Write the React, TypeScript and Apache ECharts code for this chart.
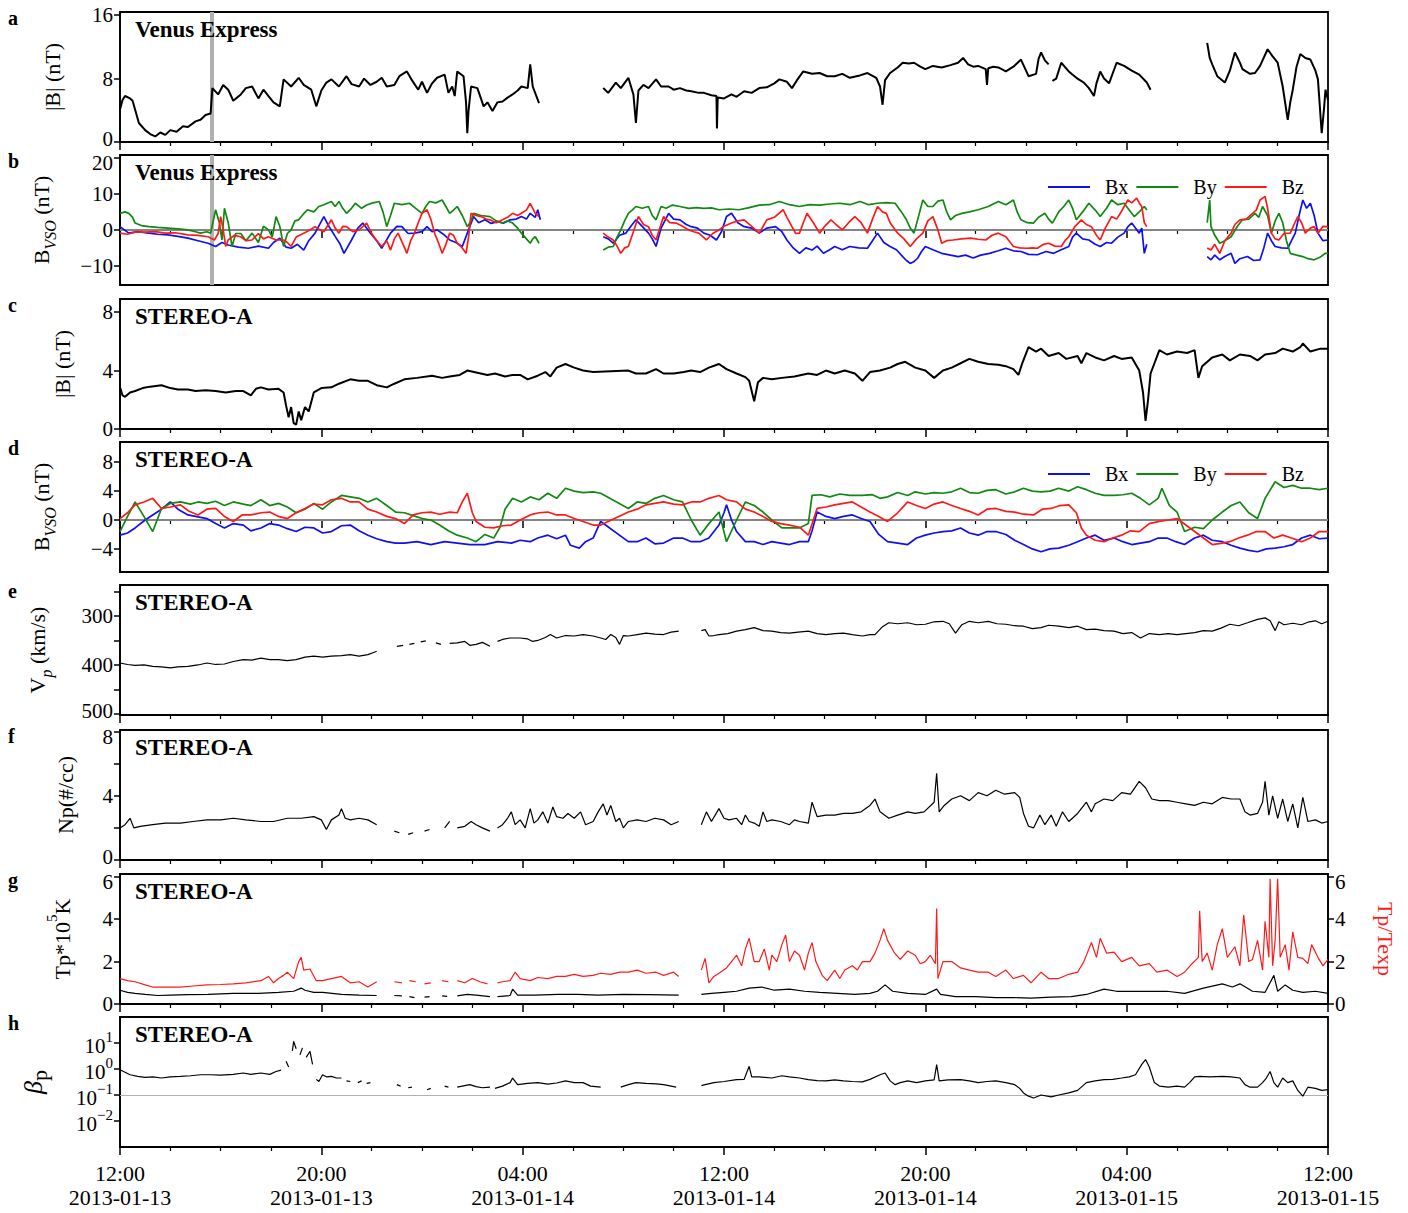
import React, { useEffect, useRef } from "react";
import * as echarts from "echarts";

type P = [number, number | null];
// time axis: hours since 2013-01-13 12:00
const timeTicks = [0, 8, 16, 24, 32, 40, 48];
const timeTickLabels = ["12:00\n2013-01-13", "20:00\n2013-01-13", "04:00\n2013-01-14", "12:00\n2013-01-14", "20:00\n2013-01-14", "04:00\n2013-01-15", "12:00\n2013-01-15"];
const boundaryTime = 3.65;

const vexB: P[] = [[0,4.1],[0.1,5.3],[0.2,5.8],[0.4,5.5],[0.5,5.2],[0.75,2.4],[1.0,1.5],[1.2,1.0],[1.4,0.7],[1.6,1.2],[1.8,0.9],[2.0,1.5],[2.25,1.3],[2.5,2.0],[2.7,1.9],[3.0,2.6],[3.2,2.8],[3.4,3.4],[3.6,3.6],[3.67,6.8],[3.9,6.0],[4.1,7.2],[4.3,6.6],[4.5,5.2],[4.8,6.0],[5.0,6.8],[5.25,7.0],[5.5,5.5],[5.7,6.6],[5.9,5.8],[6.1,5.0],[6.35,4.5],[6.5,7.9],[6.8,7.0],[7.1,8.1],[7.3,7.2],[7.6,6.6],[7.8,4.5],[8.0,6.5],[8.2,7.5],[8.4,7.9],[8.7,7.0],[9.0,8.3],[9.2,7.3],[9.5,7.0],[9.7,8.0],[9.95,7.2],[10.2,7.6],[10.4,8.1],[10.6,7.0],[10.9,7.2],[11.1,8.3],[11.4,8.9],[11.6,7.8],[11.85,6.6],[12.0,7.6],[12.2,6.2],[12.4,7.4],[12.6,8.1],[12.9,8.5],[13.05,6.2],[13.2,7.0],[13.3,5.8],[13.4,8.9],[13.65,8.3],[13.75,5.0],[13.8,1.1],[13.85,4.0],[13.95,7.0],[14.2,6.8],[14.45,4.5],[14.6,5.0],[14.8,3.9],[15.0,5.0],[15.2,5.1],[15.4,5.6],[15.6,6.0],[15.8,6.5],[15.95,7.0],[16.2,6.8],[16.3,9.8],[16.4,7.0],[16.65,4.9],[16.7,null],
[19.2,6.8],[19.4,6.2],[19.7,7.5],[19.9,6.8],[20.2,8.1],[20.4,6.0],[20.5,2.4],[20.6,6.5],[20.8,7.2],[21.0,6.8],[21.3,7.9],[21.5,7.0],[21.8,7.0],[22.0,6.6],[22.25,6.8],[22.5,6.5],[22.7,6.4],[23.0,6.2],[23.2,6.2],[23.5,5.9],[23.7,5.8],[23.72,1.7],[23.75,5.6],[24.0,5.5],[24.3,6.0],[24.5,5.7],[24.8,6.4],[25.1,6.2],[25.4,6.8],[25.7,6.9],[26.0,7.4],[26.2,7.9],[26.5,7.6],[26.7,6.8],[26.9,7.8],[27.15,8.9],[27.5,8.6],[27.8,8.7],[28.1,8.3],[28.4,8.3],[28.7,8.6],[29.0,8.1],[29.4,8.4],[29.7,8.7],[30.05,8.1],[30.2,7.0],[30.3,4.7],[30.4,7.8],[30.6,8.7],[30.9,9.4],[31.1,10.0],[31.35,9.9],[31.55,10.0],[31.8,9.5],[32.0,9.2],[32.3,9.6],[32.65,9.4],[33.0,9.7],[33.3,10.0],[33.5,10.6],[33.7,9.8],[33.9,9.5],[34.1,9.6],[34.4,9.2],[34.45,7.2],[34.5,9.3],[34.7,9.5],[34.9,9.4],[35.2,8.9],[35.5,9.5],[35.8,10.4],[36.1,8.3],[36.4,8.6],[36.5,10.5],[36.6,11.3],[36.75,10.3],[36.9,9.8],[37.0,null],[37.05,7.7],[37.2,8.0],[37.4,10.0],[37.7,8.9],[38.0,8.1],[38.3,7.5],[38.5,6.8],[38.7,5.8],[38.8,7.4],[38.95,8.9],[39.1,8.0],[39.3,7.4],[39.6,10.0],[39.9,9.6],[40.2,9.0],[40.5,8.5],[40.8,7.5],[40.95,6.6],[41.0,null],
[43.2,12.5],[43.3,10.6],[43.4,9.8],[43.6,8.3],[43.9,7.5],[44.1,9.0],[44.3,11.3],[44.5,10.0],[44.6,9.2],[44.9,8.6],[45.1,8.7],[45.3,9.6],[45.6,11.7],[45.8,10.8],[46.0,10.0],[46.2,7.0],[46.4,2.8],[46.5,5.0],[46.6,6.6],[46.75,9.5],[46.9,11.1],[47.1,10.6],[47.3,10.4],[47.5,9.0],[47.6,7.9],[47.75,1.1],[47.85,4.5],[47.9,6.6],[48.0,5.3]];

const vexBx: P[] = [[0,0.9],[0.35,-0.9],[0.7,-0.5],[1.15,-0.9],[1.5,-1.2],[1.9,-1.4],[2.3,-1.8],[2.7,-2.3],[3.1,-3.0],[3.5,-3.7],[3.8,-4.6],[4.05,-3.5],[4.3,-4.2],[4.7,-4.8],[5.1,-5.1],[5.5,-4.5],[5.9,-5.1],[6.1,-3.5],[6.35,-2.3],[6.6,-4.8],[6.8,-5.1],[7.05,-4.0],[7.3,-5.6],[7.5,-3.0],[7.75,-0.9],[8.1,3.7],[8.3,1.0],[8.55,-1.8],[8.75,-4.0],[8.9,-6.5],[9.2,-2.8],[9.45,0.5],[9.65,1.9],[9.95,-0.9],[10.2,-3.0],[10.4,-5.1],[10.75,-0.9],[11.0,1.0],[11.2,0.9],[11.45,-1.0],[11.7,-0.9],[12.0,-0.5],[12.2,0.9],[12.4,-0.5],[12.6,0],[12.85,-1.2],[13.1,-2.8],[13.35,-3.5],[13.6,-4.6],[13.8,-0.9],[14.05,3.7],[14.25,2.0],[14.5,2.8],[14.75,1.8],[15.0,2.3],[15.25,1.9],[15.5,2.8],[15.75,3.0],[15.95,3.7],[16.15,3.0],[16.3,4.6],[16.5,3.5],[16.6,5.6],[16.7,2.8],[16.72,null],
[19.2,-1.9],[19.4,-2.5],[19.6,-3.7],[19.85,-1.5],[20.1,-0.9],[20.3,1.0],[20.5,2.8],[20.75,1.0],[21.0,-0.9],[21.15,-2.5],[21.3,-4.6],[21.5,0.5],[21.8,4.6],[22.0,3.0],[22.25,2.8],[22.5,1.5],[22.7,0.9],[22.95,0.5],[23.2,-0.9],[23.45,-1.5],[23.7,-2.8],[23.9,-0.5],[24.1,3.7],[24.3,4.6],[24.55,2.0],[24.8,0.9],[25.1,0.5],[25.4,-0.9],[25.7,0.5],[26.05,0.9],[26.3,-0.5],[26.5,-2.8],[26.75,-5.0],[27.0,-6.5],[27.25,-5.0],[27.5,-5.6],[27.7,-4.5],[27.95,-6.5],[28.2,-5.5],[28.4,-4.6],[28.7,-5.5],[29.0,-4.6],[29.35,-5.0],[29.7,-5.1],[29.9,-3.0],[30.1,-0.9],[30.35,-3.5],[30.6,-4.6],[30.85,-5.5],[31.1,-7.4],[31.25,-8.5],[31.4,-9.3],[31.55,-8.8],[31.7,-7.8],[31.85,-6.0],[32.0,-4.6],[32.3,-5.5],[32.65,-6.5],[33.0,-7.0],[33.3,-7.4],[33.6,-7.0],[33.9,-7.8],[34.2,-7.0],[34.55,-6.5],[34.9,-5.8],[35.2,-5.1],[35.5,-5.8],[35.8,-6.0],[36.1,-6.8],[36.45,-6.9],[36.8,-6.0],[37.1,-6.5],[37.4,-5.5],[37.7,-4.6],[37.85,-2.0],[38.0,-0.9],[38.25,-2.5],[38.5,-2.8],[38.75,-4.0],[38.95,-4.6],[39.2,-3.5],[39.4,-3.7],[39.65,-2.0],[39.9,-0.9],[40.05,0.9],[40.2,1.9],[40.35,0.5],[40.5,-0.9],[40.6,0.5],[40.7,-6.5],[40.8,-4.0],[40.82,null],
[43.2,-7.4],[43.35,-8.3],[43.5,-7.0],[43.7,-8.3],[43.9,-7.4],[44.15,-6.5],[44.3,-9.3],[44.5,-8.0],[44.8,-7.4],[45.05,-8.5],[45.3,-8.3],[45.45,-5.0],[45.6,-0.9],[45.75,-3.0],[45.9,-4.6],[46.15,-5.0],[46.4,-5.1],[46.55,-3.0],[46.7,-0.9],[46.85,4.0],[47.0,8.3],[47.15,6.0],[47.3,7.4],[47.45,4.0],[47.6,-0.9],[47.8,-3.0],[48.0,-2.8]];

const vexBy: P[] = [[0,4.6],[0.2,5.0],[0.35,4.6],[0.5,3.5],[0.6,1.9],[0.85,1.2],[1.15,0.9],[1.5,0.7],[1.9,0.5],[2.3,0.3],[2.7,0],[3.0,-0.5],[3.2,-0.9],[3.45,-0.5],[3.6,-0.9],[3.8,5.6],[3.95,2.0],[4.05,-2.8],[4.15,6.0],[4.3,2.0],[4.45,-4.6],[4.6,-1.0],[4.8,-1.0],[5.0,-3.0],[5.25,-0.9],[5.5,-3.5],[5.7,1.0],[5.9,0],[6.05,-2.0],[6.2,3.7],[6.35,1.0],[6.5,-4.6],[6.65,-1.0],[6.8,0],[6.95,2.5],[7.1,2.8],[7.3,4.5],[7.45,5.6],[7.7,5.0],[7.9,6.5],[8.1,7.0],[8.4,7.9],[8.55,6.5],[8.7,7.9],[8.85,6.0],[9.0,4.6],[9.2,6.0],[9.35,7.4],[9.6,6.0],[9.8,6.9],[10.05,7.5],[10.3,7.9],[10.45,5.0],[10.6,0.9],[10.75,4.0],[10.9,7.4],[11.2,7.0],[11.5,7.4],[11.75,6.0],[12.0,4.6],[12.15,6.5],[12.3,7.9],[12.55,7.5],[12.8,8.3],[12.95,6.5],[13.1,4.6],[13.25,5.5],[13.4,6.5],[13.6,4.0],[13.8,0.9],[13.95,2.5],[14.05,4.6],[14.35,4.0],[14.7,3.7],[14.95,2.5],[15.2,1.9],[15.4,2.5],[15.6,1.9],[15.8,0.5],[15.95,-0.9],[16.15,-2.5],[16.3,-3.7],[16.4,-2.5],[16.5,-1.9],[16.65,-3.7],[16.7,null],
[19.2,-5.6],[19.4,-4.8],[19.6,-4.6],[19.75,-2.0],[19.9,0],[20.05,2.5],[20.2,4.6],[20.35,5.5],[20.5,6.5],[20.75,6.0],[21.0,6.5],[21.15,4.0],[21.3,2.8],[21.5,6.5],[21.7,6.0],[21.95,6.9],[22.25,6.5],[22.6,6.0],[22.9,6.2],[23.2,6.0],[23.5,6.1],[23.8,5.6],[24.2,5.8],[24.6,5.6],[25.0,6.2],[25.4,6.9],[25.8,7.0],[26.2,7.9],[26.6,7.0],[27.0,6.5],[27.4,7.0],[27.8,6.9],[28.2,7.2],[28.6,7.4],[29.0,7.0],[29.4,7.9],[29.75,7.0],[30.1,7.4],[30.45,7.6],[30.8,7.4],[31.05,5.0],[31.25,2.8],[31.4,0.5],[31.55,-0.9],[31.7,3.0],[31.9,8.3],[32.1,6.5],[32.3,6.5],[32.5,8.0],[32.7,8.3],[32.85,5.0],[33.0,2.8],[33.2,4.0],[33.45,4.6],[33.75,5.0],[34.1,5.6],[34.5,6.5],[34.9,7.9],[35.2,7.0],[35.5,8.3],[35.65,5.0],[35.8,2.8],[36.05,2.0],[36.3,1.9],[36.5,3.5],[36.75,4.6],[36.9,3.0],[37.05,1.9],[37.3,5.0],[37.5,6.5],[37.7,8.3],[37.85,6.0],[38.0,2.8],[38.25,5.0],[38.5,7.4],[38.75,5.5],[38.95,3.7],[39.2,6.0],[39.4,8.3],[39.65,7.0],[39.9,7.4],[40.1,5.5],[40.3,3.7],[40.5,5.0],[40.7,6.5],[40.8,5.5],[40.82,null],
[43.2,2.0],[43.3,8.3],[43.35,0.9],[43.5,-1.5],[43.7,-3.7],[43.9,-3.0],[44.15,-1.9],[44.4,1.0],[44.6,2.8],[44.85,3.0],[45.1,4.6],[45.25,3.5],[45.4,6.5],[45.6,4.0],[45.75,-0.9],[45.9,2.5],[46.05,4.6],[46.2,2.0],[46.35,-3.0],[46.5,-6.5],[46.75,-7.0],[47.0,-7.4],[47.2,-8.0],[47.45,-8.3],[47.7,-7.5],[47.9,-6.5],[48.0,-6.5]];

const vexBz: P[] = [[0,-0.9],[0.3,-1.2],[0.6,-0.6],[1.0,-0.6],[1.4,-0.5],[1.8,-0.9],[2.2,-0.8],[2.7,-1.4],[3.1,-1.5],[3.5,-1.9],[3.75,-2.8],[3.9,-1.0],[4.0,3.7],[4.1,0],[4.2,-4.6],[4.3,-2.8],[4.55,-1.5],[4.8,-1.9],[5.0,-3.0],[5.25,-2.8],[5.5,-1.0],[5.7,-2.5],[5.9,-1.9],[6.2,-2.8],[6.5,-2.8],[6.65,-3.5],[6.8,-4.6],[7.0,-2.0],[7.3,-0.9],[7.55,0],[7.75,0.9],[7.95,0],[8.1,-0.5],[8.4,2.8],[8.55,0.5],[8.7,-0.9],[8.85,1.0],[9.0,0.9],[9.25,-0.5],[9.5,0],[9.8,1.9],[10.0,-1.0],[10.2,-3.0],[10.4,-4.6],[10.6,-3.0],[10.75,-5.6],[10.9,-2.5],[11.05,-0.9],[11.25,-4.0],[11.4,-6.5],[11.55,-3.0],[11.7,-0.9],[11.85,2.0],[12.0,4.6],[12.2,5.6],[12.35,3.0],[12.5,-0.9],[12.65,-3.5],[12.8,-6.5],[12.95,-4.0],[13.1,-0.9],[13.25,-1.5],[13.4,-3.7],[13.6,-5.0],[13.75,-6.5],[13.85,-2.0],[13.95,4.6],[14.15,4.0],[14.35,3.7],[14.55,3.0],[14.7,2.8],[14.95,2.0],[15.2,2.8],[15.4,3.5],[15.6,4.6],[15.8,4.0],[15.95,4.6],[16.15,5.5],[16.3,7.4],[16.4,6.0],[16.5,4.6],[16.65,3.7],[16.7,null],
[19.2,-0.9],[19.4,-2.0],[19.6,-2.8],[19.75,-4.5],[19.9,-6.5],[20.05,-5.0],[20.2,-4.6],[20.4,-0.5],[20.6,3.7],[20.8,1.5],[21.0,0.9],[21.15,-1.5],[21.3,-2.8],[21.45,0.5],[21.6,3.7],[21.85,2.0],[22.1,1.9],[22.35,1.0],[22.6,0],[22.8,-0.5],[23.0,-0.9],[23.3,-2.8],[23.55,-1.0],[23.8,0],[24.0,1.0],[24.3,1.9],[24.55,2.5],[24.8,2.8],[25.1,1.0],[25.4,-0.9],[25.7,2.8],[26.0,3.5],[26.35,5.6],[26.5,3.5],[26.7,0.9],[26.85,-1.0],[27.0,-0.9],[27.15,2.0],[27.3,4.6],[27.55,2.0],[27.8,-0.9],[28.0,1.0],[28.25,2.8],[28.45,1.5],[28.7,0],[28.95,2.0],[29.2,3.7],[29.45,2.0],[29.7,-0.9],[29.9,3.0],[30.1,6.5],[30.3,5.0],[30.45,4.6],[30.6,2.0],[30.9,-0.9],[31.15,-2.5],[31.4,-4.6],[31.65,-2.5],[31.9,-0.9],[32.1,2.5],[32.3,3.7],[32.5,0],[32.65,-3.7],[32.85,-3.0],[33.1,-2.8],[33.45,-2.5],[33.8,-2.3],[34.1,-2.6],[34.4,-2.8],[34.65,-1.5],[34.9,-0.9],[35.2,-1.9],[35.5,-4.6],[35.75,-5.0],[36.0,-5.1],[36.25,-5.0],[36.45,-5.1],[36.7,-4.0],[36.9,-3.7],[37.15,-4.5],[37.4,-4.6],[37.55,-3.0],[37.7,-1.9],[37.95,1.0],[38.2,2.8],[38.4,1.5],[38.6,0.9],[38.8,-1.5],[38.95,-2.8],[39.15,0.5],[39.4,3.7],[39.6,3.0],[39.75,4.6],[39.9,6.5],[40.05,8.3],[40.2,7.5],[40.4,8.8],[40.5,7.5],[40.6,6.5],[40.7,2.0],[40.8,0.9],[40.82,null],
[43.2,-5.0],[43.35,-5.6],[43.5,-4.0],[43.7,-6.5],[43.9,-3.0],[44.15,-0.9],[44.3,1.5],[44.5,2.8],[44.75,3.0],[45.0,4.6],[45.15,5.5],[45.3,8.3],[45.5,9.3],[45.6,6.0],[45.75,-0.9],[45.9,-2.5],[46.05,-2.8],[46.25,-1.0],[46.5,-0.9],[46.65,1.5],[46.8,3.7],[46.95,2.0],[47.1,-0.9],[47.3,0.5],[47.45,0.9],[47.6,-1.0],[47.8,1.0],[48.0,0.9]];

const staB: P[] = [[0,2.85],[0.1,2.3],[0.2,2.2],[0.4,2.5],[0.6,2.6],[0.9,2.8],[1.2,2.9],[1.65,3.0],[2.0,2.8],[2.3,2.7],[2.7,2.7],[3.0,2.6],[3.4,2.65],[3.8,2.6],[4.2,2.5],[4.6,2.6],[4.9,2.6],[5.2,2.3],[5.4,2.75],[5.6,2.85],[5.9,2.7],[6.3,2.75],[6.5,2.5],[6.6,1.6],[6.7,0.8],[6.8,1.5],[6.9,0.4],[7.0,0.3],[7.1,1.2],[7.2,0.6],[7.35,1.5],[7.5,1.2],[7.7,2.5],[8.0,2.8],[8.4,2.85],[8.7,3.1],[9.15,3.4],[9.5,3.3],[9.85,3.3],[10.2,3.0],[10.6,2.85],[10.9,3.1],[11.3,3.4],[11.8,3.5],[12.4,3.65],[12.8,3.5],[13.1,3.6],[13.5,3.7],[13.8,4.0],[14.2,3.85],[14.6,3.7],[14.9,3.8],[15.3,3.6],[15.6,3.7],[15.9,3.7],[16.2,3.4],[16.6,3.65],[16.9,3.9],[17.1,3.6],[17.35,4.2],[17.7,4.45],[18.05,4.2],[18.4,4.0],[18.8,3.9],[20.2,4.0],[20.5,3.8],[20.9,3.8],[21.3,4.1],[21.6,3.8],[22.0,3.8],[22.4,3.9],[22.7,4.0],[23.05,3.9],[23.4,4.2],[23.8,4.45],[24.1,4.1],[24.5,3.8],[24.85,3.55],[25.0,3.3],[25.2,1.9],[25.35,3.2],[25.55,3.5],[25.9,3.4],[26.3,3.5],[26.8,3.6],[27.35,3.8],[27.7,3.7],[28.05,4.0],[28.4,3.8],[28.8,4.0],[29.2,3.8],[29.5,3.3],[29.8,3.9],[30.2,4.0],[30.6,4.2],[30.9,4.45],[31.2,4.6],[31.6,4.2],[32.0,4.0],[32.35,3.5],[32.7,4.0],[33.05,4.2],[33.4,4.5],[33.75,4.8],[34.1,4.6],[34.5,4.45],[34.9,4.4],[35.2,4.3],[35.5,4.1],[35.7,3.7],[35.85,4.5],[36.1,5.6],[36.4,5.3],[36.6,5.5],[36.9,5.0],[37.3,5.2],[37.6,4.8],[38.05,5.0],[38.2,4.5],[38.4,5.2],[38.75,4.9],[39.1,4.7],[39.5,5.0],[39.8,4.8],[40.2,4.9],[40.5,4.0],[40.65,2.5],[40.75,0.55],[40.85,2.0],[40.95,3.8],[41.3,5.4],[41.6,5.1],[42.0,5.3],[42.4,5.2],[42.7,5.4],[42.85,3.5],[43.0,4.3],[43.4,4.9],[43.8,5.1],[44.1,4.7],[44.5,5.1],[44.9,5.0],[45.2,4.7],[45.5,5.1],[45.9,5.2],[46.2,5.5],[46.6,5.3],[46.9,5.6],[47.0,5.85],[47.3,5.3],[47.7,5.5],[48.0,5.5]];

const staBx: P[] = [[0,-2.1],[0.3,-1.8],[0.6,-1.1],[1.0,0],[1.3,0.7],[1.65,1.5],[2.0,2.5],[2.3,1.5],[2.7,0.7],[3.0,0.5],[3.45,0.2],[3.8,-0.5],[4.15,-1.1],[4.5,-0.5],[4.9,-0.7],[5.2,-1.5],[5.6,-1.1],[5.95,-0.5],[6.3,-0.7],[6.65,-1.2],[7.0,-1.6],[7.35,-1.0],[7.7,-1.1],[8.05,-1.8],[8.4,-1.6],[8.8,-0.8],[9.15,-0.7],[9.5,-1.5],[9.85,-2.1],[10.2,-2.6],[10.6,-3.0],[10.95,-3.2],[11.3,-3.2],[11.8,-3.0],[12.35,-3.4],[12.9,-3.0],[13.4,-3.2],[13.9,-3.4],[14.5,-3.4],[15.0,-3.0],[15.55,-3.2],[15.9,-2.8],[16.3,-3.0],[16.6,-2.5],[17.0,-2.1],[17.35,-2.6],[17.7,-2.1],[17.9,-3.5],[18.25,-3.9],[18.5,-3.0],[18.8,-2.5],[19.1,-0.2],[20.2,-3.0],[20.55,-3.0],[20.9,-2.5],[21.25,-3.3],[21.6,-3.2],[22.0,-2.5],[22.35,-2.5],[22.7,-3.0],[23.05,-3.0],[23.4,-2.5],[23.8,-0.7],[24.0,1.0],[24.1,2.1],[24.3,0],[24.5,-1.6],[24.85,-3.0],[25.2,-3.0],[25.55,-3.4],[25.9,-3.0],[26.25,-3.2],[26.6,-3.4],[27.0,-3.0],[27.35,-3.0],[27.5,-1.5],[27.7,1.1],[28.05,0.5],[28.4,0.2],[28.75,0.5],[29.1,0.7],[29.45,0.2],[29.8,-0.2],[30.15,-2.0],[30.5,-3.0],[30.9,-3.2],[31.3,-3.4],[31.65,-2.5],[32.0,-2.1],[32.35,-1.8],[32.7,-1.6],[33.05,-1.5],[33.4,-1.1],[33.75,-1.8],[34.1,-2.1],[34.45,-1.6],[34.8,-1.6],[35.2,-2.0],[35.55,-2.8],[35.9,-3.4],[36.25,-4.0],[36.6,-4.4],[36.95,-4.0],[37.3,-3.9],[37.7,-3.5],[38.05,-3.0],[38.4,-2.5],[38.75,-2.1],[39.1,-2.8],[39.5,-2.5],[39.85,-3.0],[40.2,-3.4],[40.55,-3.2],[40.9,-3.0],[41.25,-2.5],[41.6,-2.5],[41.95,-3.0],[42.3,-3.4],[42.7,-2.5],[43.05,-2.1],[43.4,-2.8],[43.8,-3.0],[44.15,-3.5],[44.5,-3.9],[44.85,-4.2],[45.2,-4.4],[45.55,-4.0],[45.9,-3.9],[46.25,-3.7],[46.6,-3.4],[46.95,-2.5],[47.3,-2.1],[47.65,-2.6],[48.0,-2.5]];

const staBy: P[] = [[0,-1.6],[0.3,0.5],[0.6,2.5],[0.95,0.5],[1.3,-1.6],[1.65,1.6],[2.0,2.3],[2.4,2.5],[2.8,2.2],[3.1,2.5],[3.45,2.3],[3.8,2.6],[4.15,2.0],[4.5,2.5],[4.9,2.2],[5.2,2.0],[5.6,2.8],[5.95,2.0],[6.3,2.3],[6.65,1.8],[7.0,1.0],[7.35,1.5],[7.7,2.3],[8.05,1.5],[8.4,2.5],[8.8,3.4],[9.15,3.2],[9.5,3.0],[9.85,2.5],[10.2,3.0],[10.6,2.0],[10.95,1.1],[11.3,1.0],[11.65,0.6],[12.0,0.2],[12.35,0],[12.7,-0.7],[13.05,-1.5],[13.4,-2.1],[13.8,-2.5],[14.15,-3.0],[14.5,-2.0],[14.85,-2.5],[15.1,-1.0],[15.3,1.5],[15.6,3.0],[15.95,2.5],[16.3,3.2],[16.65,2.8],[17.0,3.7],[17.35,3.0],[17.7,4.4],[18.05,4.0],[18.4,3.8],[18.8,3.9],[19.1,3.7],[20.2,1.6],[20.55,2.5],[20.9,2.3],[21.25,3.0],[21.6,3.4],[22.0,2.8],[22.35,2.5],[22.7,0],[23.05,-2.1],[23.4,-0.5],[23.8,1.1],[24.1,-3.0],[24.5,0],[24.85,2.5],[25.2,2.0],[25.55,1.1],[25.9,0],[26.3,-1.1],[26.6,-1.1],[27.0,-1.1],[27.35,-0.5],[27.5,3.4],[27.85,3.5],[28.2,3.2],[28.6,3.6],[29.0,3.4],[29.5,3.4],[29.9,3.5],[30.2,3.0],[30.5,3.2],[30.9,3.8],[31.3,3.4],[31.6,3.9],[32.0,3.6],[32.35,3.8],[32.7,3.7],[33.05,3.9],[33.4,4.4],[33.75,3.8],[34.1,3.7],[34.45,4.1],[34.8,4.2],[35.2,3.6],[35.55,3.9],[35.9,4.4],[36.25,4.0],[36.6,3.9],[36.95,4.0],[37.3,4.4],[37.7,4.0],[38.05,4.6],[38.4,4.2],[38.75,3.7],[39.1,3.4],[39.5,3.4],[39.85,3.5],[40.2,3.7],[40.55,3.0],[40.9,2.1],[41.25,3.0],[41.4,4.4],[41.7,2.0],[42.0,1.1],[42.3,-1.6],[42.7,-1.0],[43.05,-1.2],[43.4,0],[43.8,1.1],[44.15,2.0],[44.5,2.5],[44.85,1.0],[45.2,0.2],[45.5,3.0],[45.9,5.3],[46.25,4.5],[46.6,4.8],[46.95,4.4],[47.3,4.4],[47.65,4.2],[48.0,4.4]];

const staBz: P[] = [[0,0.2],[0.3,1.0],[0.6,2.1],[0.95,2.5],[1.3,3.0],[1.65,1.6],[2.0,1.8],[2.4,2.1],[2.75,1.2],[3.1,0.7],[3.45,1.5],[3.8,1.6],[4.15,0.5],[4.5,-0.2],[4.85,0.7],[5.2,0.7],[5.6,1.0],[5.95,1.1],[6.3,0.5],[6.65,0.2],[7.0,1.0],[7.35,1.6],[7.7,2.2],[8.05,2.1],[8.4,2.8],[8.8,3.0],[9.15,2.5],[9.5,2.5],[9.85,1.5],[10.2,1.1],[10.6,0.5],[10.95,0.2],[11.3,-0.5],[11.65,0.7],[12.0,1.0],[12.35,1.1],[12.7,0.8],[13.1,1.1],[13.4,1.0],[13.6,2.5],[13.8,3.7],[14.0,1.0],[14.15,-0.2],[14.5,-1.0],[14.85,-1.1],[15.2,-0.8],[15.55,-0.7],[15.9,0],[16.3,0.7],[16.65,1.0],[17.0,1.1],[17.35,0.7],[17.7,0.7],[18.05,0.2],[18.4,-0.2],[18.8,-0.7],[19.1,-0.7],[20.2,1.1],[20.55,1.5],[20.9,2.1],[21.25,2.3],[21.6,2.5],[22.0,2.2],[22.35,2.1],[22.7,2.5],[23.05,2.5],[23.4,3.0],[23.8,3.4],[24.1,2.8],[24.5,2.5],[24.85,1.5],[25.2,1.1],[25.55,0.5],[25.9,-0.2],[26.25,-0.5],[26.6,-0.7],[27.0,-1.0],[27.35,-2.1],[27.55,0],[27.7,1.6],[28.05,1.8],[28.4,2.1],[28.75,2.3],[29.1,2.5],[29.45,1.8],[29.8,1.1],[30.15,0.5],[30.5,-0.2],[30.9,1.0],[31.3,2.5],[31.65,2.0],[32.0,1.6],[32.35,2.2],[32.7,2.5],[33.05,2.0],[33.4,1.6],[33.75,1.2],[34.1,0.7],[34.45,1.5],[34.8,1.6],[35.2,1.2],[35.55,1.1],[35.9,0.8],[36.3,0.7],[36.65,1.5],[37.0,1.6],[37.35,2.0],[37.7,2.1],[38.0,1.0],[38.2,-1.1],[38.4,-2.1],[38.75,-2.8],[39.1,-3.0],[39.45,-2.5],[39.8,-2.1],[40.15,-1.5],[40.5,-1.6],[40.9,-0.5],[41.3,-0.2],[41.65,0],[42.0,0.2],[42.35,-0.7],[42.7,-1.6],[43.05,-2.5],[43.4,-3.4],[43.8,-3.2],[44.1,-3.0],[44.45,-2.5],[44.8,-2.1],[45.15,-1.6],[45.5,-1.6],[45.85,-2.5],[46.2,-2.1],[46.55,-2.5],[46.95,-3.0],[47.3,-2.5],[47.65,-1.6],[48.0,-1.6]];

const staVp: P[] = [[0,396],[0.3,399],[0.6,401],[0.95,400],[1.3,403],[1.65,404],[2.0,406],[2.3,404],[2.7,403],[3.1,400],[3.45,396],[3.8,399],[4.15,398],[4.5,393],[4.9,389],[5.25,390],[5.6,386],[5.95,389],[6.3,389],[6.65,391],[7.0,389],[7.35,384],[7.7,382],[8.05,384],[8.4,382],[8.8,381],[9.15,379],[9.5,382],[9.85,379],[10.05,375],[10.2,372],[10.3,null],
[11.0,362],[11.25,360],[11.3,null],[11.5,358],[11.7,356],[11.75,null],[11.95,353],[12.15,351],[12.2,null],[12.55,355],[12.75,358],[12.8,null],
[13.1,356],[13.4,355],[13.7,352],[13.9,360],[14.15,358],[14.4,354],[14.7,362],[14.9,null],
[15.0,352],[15.2,348],[15.5,345],[15.9,345],[16.2,347],[16.4,352],[16.6,350],[16.9,344],[17.1,338],[17.35,345],[17.7,340],[18.05,341],[18.4,338],[18.8,341],[19.1,345],[19.3,348],[19.5,338],[19.7,344],[19.85,358],[20.0,340],[20.2,341],[20.55,338],[20.9,335],[21.25,337],[21.6,338],[21.9,333],[22.2,331],[22.25,null],
[23.1,330],[23.25,328],[23.4,341],[23.6,340],[23.8,338],[24.15,336],[24.5,331],[24.85,328],[25.2,324],[25.55,330],[25.9,331],[26.25,334],[26.6,335],[26.95,333],[27.35,331],[27.7,336],[28.05,338],[28.4,336],[28.75,335],[29.1,338],[29.5,341],[29.8,338],[30.0,338],[30.3,322],[30.55,314],[30.9,316],[31.3,314],[31.65,318],[32.0,317],[32.35,312],[32.7,311],[32.95,316],[33.2,335],[33.45,318],[33.75,311],[34.1,314],[34.5,311],[34.85,316],[35.2,317],[35.55,320],[35.9,321],[36.25,326],[36.6,324],[36.9,319],[37.3,321],[37.7,324],[38.05,321],[38.4,328],[38.75,327],[39.1,330],[39.5,331],[39.85,336],[40.2,334],[40.55,345],[40.9,336],[41.3,338],[41.65,336],[42.0,338],[42.35,336],[42.7,334],[43.05,330],[43.4,331],[43.75,325],[44.1,317],[44.45,320],[44.8,314],[45.2,307],[45.5,304],[45.7,310],[45.9,330],[46.05,312],[46.25,318],[46.6,315],[46.95,318],[47.25,312],[47.5,310],[47.75,316],[48.0,311]];

const staNp: P[] = [[0,2.0],[0.2,2.2],[0.4,2.6],[0.55,2.0],[0.8,2.1],[1.3,2.2],[1.8,2.3],[2.4,2.3],[2.9,2.4],[3.45,2.5],[4.0,2.5],[4.5,2.6],[5.0,2.5],[5.6,2.4],[6.1,2.4],[6.65,2.6],[7.2,2.6],[7.7,2.7],[8.0,2.5],[8.2,1.9],[8.4,2.5],[8.7,2.8],[8.8,3.2],[8.95,2.6],[9.15,2.5],[9.5,2.6],[9.85,2.5],[10.2,2.2],[10.3,null],
[10.9,1.8],[11.1,1.7],[11.2,null],[11.45,1.6],[11.65,1.7],[11.7,null],[12.1,1.8],[12.3,1.9],[12.35,null],[12.9,2.0],[13.1,2.4],[13.2,null],
[13.4,2.0],[13.7,2.1],[13.95,2.4],[14.15,2.2],[14.4,2.0],[14.7,1.8],[14.75,null],[15.0,2.0],[15.2,2.2],[15.4,2.6],[15.55,3.0],[15.7,2.2],[15.9,2.5],[16.1,2.0],[16.3,3.2],[16.45,2.3],[16.6,2.5],[16.8,3.0],[17.0,2.3],[17.2,3.3],[17.35,2.7],[17.6,2.6],[17.8,2.9],[18.05,2.6],[18.3,3.0],[18.5,2.2],[18.8,2.4],[19.0,3.0],[19.2,3.5],[19.35,2.8],[19.5,3.4],[19.7,2.4],[19.85,2.6],[20.0,2.0],[20.2,2.4],[20.55,2.5],[20.9,2.4],[21.25,2.6],[21.6,2.5],[21.9,2.2],[22.2,2.4],[22.25,null],
[23.1,2.2],[23.3,3.0],[23.5,2.4],[23.8,3.2],[24.0,2.6],[24.2,2.5],[24.5,2.6],[24.7,2.2],[24.85,2.8],[25.0,2.4],[25.2,2.3],[25.4,2.1],[25.55,3.0],[25.7,2.4],[25.9,2.5],[26.25,2.4],[26.6,2.2],[26.8,2.5],[27.0,2.4],[27.35,2.3],[27.5,3.6],[27.7,2.7],[28.05,2.8],[28.4,2.8],[28.75,2.9],[29.1,2.9],[29.45,3.0],[29.8,3.4],[30.0,3.8],[30.2,3.0],[30.55,2.6],[30.9,2.8],[31.3,3.0],[31.6,2.9],[31.95,3.0],[32.35,3.6],[32.45,5.4],[32.55,3.0],[32.75,3.4],[33.05,3.8],[33.4,4.0],[33.75,3.7],[34.1,4.2],[34.45,4.0],[34.8,4.35],[35.15,4.1],[35.55,4.2],[35.75,3.9],[35.9,2.9],[36.1,2.1],[36.3,2.0],[36.55,2.8],[36.75,2.2],[37.0,2.8],[37.2,2.1],[37.45,3.0],[37.7,2.4],[38.05,2.9],[38.4,3.6],[38.6,3.0],[38.75,3.5],[39.1,3.8],[39.45,3.7],[39.8,4.2],[40.15,4.1],[40.5,4.9],[40.75,4.5],[41.0,3.8],[41.3,3.7],[41.65,3.7],[42.0,3.6],[42.35,3.5],[42.7,3.4],[43.05,3.6],[43.4,3.5],[43.8,3.9],[44.15,3.8],[44.5,3.8],[44.7,3.0],[44.9,2.8],[45.2,2.9],[45.4,3.6],[45.5,4.9],[45.65,2.8],[45.8,4.0],[46.0,2.6],[46.2,3.8],[46.4,2.4],[46.6,3.5],[46.8,2.0],[47.0,3.9],[47.2,2.4],[47.5,2.5],[47.75,2.3],[48.0,2.4]];

const staTp: P[] = [[0,0.65],[0.3,0.55],[0.6,0.5],[1.0,0.45],[1.5,0.4],[2.0,0.42],[2.7,0.44],[3.5,0.45],[4.5,0.5],[5.5,0.5],[6.3,0.55],[6.9,0.6],[7.2,0.75],[7.35,0.65],[7.7,0.55],[8.05,0.55],[8.8,0.45],[9.5,0.42],[10.2,0.4],[10.3,null],
[10.9,0.4],[11.2,0.38],[11.25,null],[11.5,0.35],[11.7,0.3],[11.75,null],[12.1,0.32],[12.3,0.35],[12.35,null],[12.8,0.38],[13.0,0.36],[13.05,null],
[13.4,0.38],[13.8,0.45],[14.15,0.42],[14.7,0.35],[14.75,null],[15.0,0.35],[15.5,0.4],[15.6,0.7],[15.8,0.42],[16.5,0.42],[17.4,0.45],[18.2,0.45],[19.0,0.42],[20.0,0.45],[21.0,0.44],[22.2,0.42],[22.25,null],
[23.1,0.45],[23.5,0.5],[24.0,0.55],[24.5,0.6],[25.0,0.75],[25.5,0.8],[26.0,0.65],[26.6,0.7],[27.2,0.6],[27.8,0.55],[28.5,0.5],[29.2,0.45],[29.8,0.5],[30.1,0.6],[30.4,0.9],[30.7,0.6],[31.3,0.5],[32.0,0.45],[32.45,0.7],[32.6,0.45],[33.2,0.35],[34.0,0.35],[34.8,0.3],[35.5,0.3],[36.2,0.28],[37.0,0.32],[37.8,0.35],[38.4,0.45],[39.1,0.7],[39.6,0.6],[40.3,0.6],[41.0,0.6],[41.6,0.6],[42.3,0.5],[43.05,0.75],[43.8,0.95],[44.2,0.8],[44.5,0.95],[45.0,0.6],[45.5,0.55],[45.85,1.35],[46.0,0.6],[46.3,0.9],[46.6,0.65],[47.0,0.55],[47.5,0.6],[48.0,0.5]];

const staTpTexp: P[] = [[0,1.2],[0.3,1.1],[0.6,1.05],[1.0,0.9],[1.3,0.8],[1.8,0.8],[2.4,0.8],[2.9,0.85],[3.45,0.9],[4.0,0.92],[4.5,0.95],[5.0,1.0],[5.6,1.1],[5.9,1.3],[6.1,1.0],[6.3,1.2],[6.5,1.35],[6.65,1.5],[6.9,1.2],[7.1,2.0],[7.2,2.2],[7.3,1.6],[7.55,1.65],[7.8,1.1],[8.05,1.1],[8.4,1.2],[8.8,1.3],[9.15,1.0],[9.5,1.05],[9.85,0.8],[10.2,1.05],[10.3,null],
[10.9,1.05],[11.2,1.0],[11.25,null],[11.5,1.1],[11.75,1.05],[11.8,null],[12.1,0.95],[12.35,1.0],[12.4,null],[12.8,1.1],[13.05,1.05],[13.1,null],
[13.4,1.1],[13.7,1.0],[14.0,1.2],[14.3,1.05],[14.6,0.95],[14.7,null],[15.0,1.0],[15.2,1.05],[15.5,1.1],[15.7,1.5],[15.9,1.2],[16.3,1.1],[16.6,1.25],[17.0,1.2],[17.35,1.3],[17.7,1.3],[18.05,1.4],[18.4,1.3],[18.8,1.35],[19.1,1.45],[19.5,1.4],[19.85,1.5],[20.2,1.5],[20.55,1.6],[20.9,1.45],[21.3,1.5],[21.6,1.35],[22.0,1.5],[22.2,1.3],[22.25,null],
[23.1,1.6],[23.25,2.15],[23.4,1.0],[23.6,1.3],[23.8,1.45],[24.1,1.7],[24.3,2.0],[24.5,2.3],[24.7,1.8],[24.85,2.6],[25.0,3.1],[25.2,2.0],[25.4,2.0],[25.6,2.6],[25.8,1.6],[25.9,2.3],[26.1,2.0],[26.3,2.8],[26.45,3.25],[26.6,2.0],[26.8,2.5],[27.0,2.3],[27.2,1.6],[27.35,2.4],[27.5,2.9],[27.65,2.0],[27.9,1.35],[28.1,1.1],[28.4,1.6],[28.6,1.2],[28.8,1.6],[29.1,1.8],[29.3,1.6],[29.5,2.0],[29.8,2.0],[30.0,2.4],[30.2,3.0],[30.35,3.55],[30.5,3.0],[30.75,2.45],[31.0,2.1],[31.3,2.5],[31.6,2.3],[31.8,1.9],[32.0,2.0],[32.2,2.3],[32.4,1.9],[32.45,4.5],[32.5,1.2],[32.7,2.0],[33.05,2.0],[33.4,1.7],[33.75,1.6],[34.1,1.5],[34.5,1.5],[34.8,1.3],[35.2,1.6],[35.5,1.2],[35.9,1.35],[36.2,1.0],[36.6,1.5],[36.9,1.2],[37.3,1.2],[37.7,1.4],[38.05,1.5],[38.3,2.0],[38.5,2.6],[38.6,2.9],[38.8,2.2],[38.95,3.1],[39.2,2.4],[39.5,2.45],[39.8,2.0],[40.2,2.2],[40.5,1.8],[40.9,1.9],[41.2,1.5],[41.6,1.6],[42.0,1.3],[42.3,1.5],[42.6,1.9],[42.85,2.2],[42.9,4.4],[43.0,2.0],[43.2,2.4],[43.4,1.6],[43.6,2.8],[43.8,3.55],[44.0,2.2],[44.3,2.7],[44.5,1.8],[44.65,4.2],[44.85,2.0],[45.0,2.1],[45.2,3.0],[45.4,1.6],[45.5,3.9],[45.65,2.2],[45.7,5.9],[45.8,1.8],[45.9,3.0],[46.0,5.9],[46.1,2.2],[46.3,2.8],[46.45,1.6],[46.6,3.4],[46.8,2.2],[47.0,2.15],[47.2,1.9],[47.35,2.8],[47.6,2.2],[47.8,1.8],[48.0,2.1]];

const staBeta: P[] = [[0,0.93],[0.2,0.75],[0.4,0.6],[0.7,0.52],[1.0,0.48],[1.3,0.5],[1.65,0.45],[2.0,0.5],[2.4,0.52],[2.8,0.55],[3.2,0.6],[3.6,0.6],[4.0,0.58],[4.5,0.62],[4.9,0.7],[5.2,0.62],[5.6,0.7],[5.95,0.62],[6.2,0.8],[6.4,0.9],[6.5,null],
[6.6,2.0],[6.7,1.2],[6.75,null],[6.85,5],[6.9,11.5],[7.0,6],[7.1,null],[7.15,3.5],[7.25,6.5],[7.3,null],[7.4,2.8],[7.55,4.8],[7.65,1.5],[7.7,null],[7.8,0.4],[7.9,0.33],[8.05,0.6],[8.2,0.5],[8.4,0.52],[8.6,0.45],[8.8,0.45],[8.9,null],[9.0,0.35],[9.15,0.33],[9.3,null],[9.45,0.3],[9.6,0.35],[9.7,null],[9.8,0.28],[9.95,0.3],[10.0,null],
[11.0,0.25],[11.15,0.22],[11.2,null],[11.45,0.19],[11.6,0.2],[11.65,null],[12.2,0.16],[12.35,0.18],[12.4,null],[12.9,0.22],[13.05,0.2],[13.1,null],
[13.4,0.2],[13.6,0.22],[13.9,0.25],[14.15,0.21],[14.4,0.19],[14.7,0.2],[14.75,null],[14.9,0.18],[15.2,0.22],[15.5,0.3],[15.6,0.45],[15.8,0.25],[16.2,0.28],[16.6,0.3],[17.0,0.26],[17.35,0.29],[17.7,0.35],[18.05,0.3],[18.4,0.3],[18.7,0.22],[19.1,0.2],[19.15,null],
[19.9,0.2],[20.2,0.25],[20.5,0.3],[20.9,0.28],[21.3,0.27],[21.6,0.25],[22.1,0.2],[22.15,null],
[23.1,0.23],[23.25,0.25],[23.6,0.3],[24.0,0.33],[24.5,0.39],[24.8,0.4],[25.0,1.27],[25.1,0.5],[25.4,0.5],[25.9,0.45],[26.3,0.55],[26.6,0.5],[27.0,0.45],[27.35,0.39],[27.7,0.36],[28.05,0.35],[28.4,0.38],[28.75,0.35],[29.1,0.33],[29.5,0.32],[29.8,0.4],[30.2,0.6],[30.4,0.7],[30.6,0.35],[30.8,0.25],[31.0,0.3],[31.3,0.35],[31.65,0.3],[32.0,0.35],[32.35,0.38],[32.45,1.47],[32.55,0.35],[32.9,0.38],[33.4,0.39],[33.75,0.35],[34.1,0.3],[34.45,0.33],[34.8,0.35],[35.2,0.3],[35.55,0.25],[35.75,0.18],[35.9,0.12],[36.1,0.09],[36.3,0.077],[36.6,0.1],[37.0,0.085],[37.3,0.1],[37.7,0.12],[38.05,0.15],[38.4,0.3],[38.75,0.35],[39.1,0.39],[39.45,0.4],[39.8,0.45],[40.1,0.5],[40.35,0.6],[40.6,1.5],[40.75,2.3],[40.9,1.2],[41.1,0.3],[41.3,0.22],[41.65,0.2],[42.0,0.22],[42.3,0.2],[42.5,0.3],[42.7,0.5],[42.9,0.52],[43.3,0.5],[43.8,0.52],[44.15,0.5],[44.5,0.45],[44.7,0.25],[44.9,0.2],[45.2,0.2],[45.4,0.3],[45.55,0.45],[45.7,0.8],[45.85,0.3],[46.0,0.2],[46.2,0.45],[46.4,0.3],[46.6,0.35],[46.8,0.15],[47.0,0.09],[47.2,0.2],[47.5,0.18],[47.75,0.15],[48.0,0.16]];

const panelLetters = ["a", "b", "c", "d", "e", "f", "g", "h"];
const panelTitles = ["Venus Express", "Venus Express", "STEREO-A", "STEREO-A", "STEREO-A", "STEREO-A", "STEREO-A", "STEREO-A"];
const componentNames = ["Bx", "By", "Bz"];

const FONT = "'Liberation Serif', 'Times New Roman', 'DejaVu Serif', serif";
const BLUE = "#1010ee";
const GREEN = "#118811";
const RED = "#ff1a1a";
const GRAY = "#b0b0b0";
const TOPS = [12, 155, 299, 442, 585, 730, 874, 1017];
const H = 130;
const LEFT = 120;
const WIDTH = 1208;
const TICK_FS = 21;

const toData = (arr: P[]) => arr.map(([t, v]) => [t, v === null ? "-" : v]);
const fmtNum = (v: number) => (v < 0 ? "\u2212" + Math.abs(v) : String(v));

const NAME_RICH = {
  n: { fontSize: 22, fontFamily: FONT, color: "#000", verticalAlign: "bottom", padding: [0, 0, 6, 0] },
  s: { fontSize: 16, fontFamily: FONT, fontStyle: "italic", color: "#000", verticalAlign: "bottom" },
  u: { fontSize: 15, fontFamily: FONT, color: "#000", verticalAlign: "bottom", padding: [0, 0, 14, 0] },
  m: { fontSize: 22, fontFamily: FONT, color: "#000", verticalAlign: "bottom" },
  bn: { fontSize: 26, fontFamily: FONT, fontStyle: "italic", color: "#000", verticalAlign: "bottom", padding: [0, 0, 4, 0] },
  bs: { fontSize: 22, fontFamily: FONT, color: "#000", verticalAlign: "bottom" },
};

const LABEL_RICH = {
  dn: { fontFamily: FONT, fontSize: TICK_FS, color: "#000", padding: [10, 0, 0, 0] },
  up: { fontFamily: FONT, fontSize: TICK_FS, color: "#000", padding: [0, 0, 6, 0] },
};

// shift: map of label value -> rich style name ("dn" pushes label down, "up" pushes it up)
function yAx(gi: number, min: number, max: number, ticks: number[], labels: number[], name: string, nameGap: number, shift: Record<string, string> = {}, extra: any = {}) {
  return {
    type: "value",
    gridIndex: gi,
    min,
    max,
    name,
    nameLocation: "middle",
    nameGap,
    nameRotate: 90,
    nameTextStyle: { fontFamily: FONT, fontSize: 22, color: "#000", rich: NAME_RICH },
    axisLine: { show: true, lineStyle: { color: "#000", width: 1.5 } },
    axisTick: { show: true, inside: false, length: 6, customValues: ticks, lineStyle: { color: "#000", width: 1.5 } },
    axisLabel: {
      customValues: labels,
      fontFamily: FONT,
      fontSize: TICK_FS,
      color: "#000",
      margin: 7,
      rich: LABEL_RICH,
      formatter: (v: number) => {
        if (!labels.some((l) => Math.abs(l - v) < 1e-6)) return "";
        const key = String(Math.round(v));
        return shift[key] ? "{" + shift[key] + "|" + fmtNum(v) + "}" : fmtNum(v);
      },
    },
    splitLine: { show: false },
    ...extra,
  };
}

function lineSeries(name: string, arr: P[], xi: number, yi: number, color: string, width: number, extra: any = {}) {
  return {
    type: "line",
    name,
    xAxisIndex: xi,
    yAxisIndex: yi,
    data: toData(arr),
    showSymbol: false,
    symbol: "none",
    connectNulls: false,
    lineStyle: { color, width },
    itemStyle: { color },
    z: 3,
    silent: true,
    ...extra,
  };
}

function refSeries(xi: number, yi: number, mark: any, width: number) {
  return {
    type: "line",
    name: "ref" + xi + "_" + yi + "_" + width,
    xAxisIndex: xi,
    yAxisIndex: yi,
    data: [],
    symbol: "none",
    silent: true,
    z: 1,
    markLine: {
      symbol: "none",
      silent: true,
      label: { show: false },
      lineStyle: { color: GRAY, width, type: "solid" },
      data: [mark],
      z: 1,
    },
  };
}

export default function App() {
  const ref = useRef<HTMLDivElement>(null);
  useEffect(() => {
    if (!ref.current) return;
    const chart = echarts.init(ref.current, undefined, { renderer: "svg" });

    const grids = TOPS.map((top) => ({
      left: LEFT,
      top,
      width: WIDTH,
      height: H,
      show: true,
      borderColor: "#000",
      borderWidth: 1.8,
      backgroundColor: "transparent",
    }));

    const xAxes = TOPS.map((_, i) => ({
      type: "value",
      gridIndex: i,
      min: 0,
      max: 48,
      interval: 8,
      axisLine: { show: true, lineStyle: { color: "#000", width: 1.8 } },
      axisTick: { show: true, inside: false, length: 8, lineStyle: { color: "#000", width: 1.5 } },
      minorTick: { show: true, splitNumber: 4, length: 4, lineStyle: { color: "#000", width: 1.2 } },
      splitLine: { show: false },
      minorSplitLine: { show: false },
      axisLabel: {
        show: i === TOPS.length - 1,
        fontFamily: FONT,
        fontSize: 22,
        lineHeight: 24,
        color: "#000",
        margin: 14,
        formatter: (v: number) => {
          const k = timeTicks.indexOf(Math.round(v));
          return k >= 0 ? timeTickLabels[k] : "";
        },
      },
    }));

    const yAxes: any[] = [
      yAx(0, 0, 16.4, [0, 8, 16], [0, 8, 16], "|B| (nT)", 57, { "0": "up" }),
      yAx(1, -15.3, 20.8, [-10, 0, 10, 20], [-10, 0, 10, 20], "{n|B}{s|VSO}{n| (nT)}", 62, { "20": "dn" }),
      yAx(2, 0, 8.9, [0, 4, 8], [0, 4, 8], "|B| (nT)", 47),
      yAx(3, -7.2, 10.8, [-4, 0, 4, 8], [-4, 0, 4, 8], "{n|B}{s|VSO}{n| (nT)}", 62),
      yAx(4, 237, 502, [250, 300, 350, 400, 450, 500], [300, 400, 500], "{n|V}{s|p}{n| (km/s)}", 66, { "500": "up" }, { inverse: true }),
      yAx(5, 0, 8.1, [0, 2, 4, 6, 8], [0, 4, 8], "Np(#/cc)", 44, { "8": "dn", "0": "up" }),
      yAx(6, 0, 6.13, [0, 2, 4, 6], [0, 2, 4, 6], "{m|Tp*10}{u|5}{m|K}", 47, { "6": "dn" }),
      {
        type: "log",
        gridIndex: 7,
        logBase: 10,
        min: 0.001,
        max: 100,
        name: "{bn|\u03b2}{bs|p}",
        nameLocation: "middle",
        nameGap: 70,
        nameRotate: 90,
        nameTextStyle: { fontFamily: FONT, fontSize: 26, color: "#000", rich: NAME_RICH },
        axisLine: { show: true, lineStyle: { color: "#000", width: 1.5 } },
        axisTick: { show: true, inside: false, length: 6, lineStyle: { color: "#000", width: 1.5 } },
        minorTick: { show: false },
        splitLine: { show: false },
        axisLabel: {
          showMinLabel: false,
          showMaxLabel: false,
          margin: 7,
          formatter: (v: number) => {
            const e = Math.round(Math.log10(v));
            return "{b|10}{s|" + (e < 0 ? "\u2212" + Math.abs(e) : String(e)) + "}";
          },
          rich: {
            b: { fontFamily: FONT, fontSize: TICK_FS, color: "#000", verticalAlign: "bottom" },
            s: { fontFamily: FONT, fontSize: 15, color: "#000", verticalAlign: "bottom", padding: [0, 0, 12, 0] },
          },
        },
      },
      {
        type: "value",
        gridIndex: 6,
        position: "right",
        min: 0,
        max: 6.13,
        name: "Tp/Texp",
        nameLocation: "middle",
        nameGap: 46,
        nameRotate: -90,
        nameTextStyle: { fontFamily: FONT, fontSize: 22, color: RED },
        axisLine: { show: true, lineStyle: { color: "#000", width: 1.5 } },
        axisTick: { show: true, inside: false, length: 6, customValues: [0, 2, 4, 6], lineStyle: { color: "#000", width: 1.5 } },
        axisLabel: {
          customValues: [0, 2, 4, 6],
          fontFamily: FONT,
          fontSize: TICK_FS,
          color: "#000",
          margin: 7,
          rich: LABEL_RICH,
          formatter: (v: number) => {
            if (![0, 2, 4, 6].includes(v)) return "";
            return v === 6 ? "{dn|6}" : String(v);
          },
        },
        splitLine: { show: false },
      },
    ];

    const series: any[] = [
      refSeries(0, 0, { xAxis: boundaryTime }, 4),
      lineSeries("VEX |B|", vexB, 0, 0, "#000", 2),
      refSeries(1, 1, { yAxis: 0 }, 1.5),
      refSeries(1, 1, { xAxis: boundaryTime }, 4),
      lineSeries("Bx", vexBx, 1, 1, BLUE, 1.7),
      lineSeries("By", vexBy, 1, 1, GREEN, 1.7),
      lineSeries("Bz", vexBz, 1, 1, RED, 1.7),
      lineSeries("STA |B|", staB, 2, 2, "#000", 2),
      refSeries(3, 3, { yAxis: 0 }, 1.5),
      lineSeries("Bx", staBx, 3, 3, BLUE, 1.7),
      lineSeries("By", staBy, 3, 3, GREEN, 1.7),
      lineSeries("Bz", staBz, 3, 3, RED, 1.7),
      lineSeries("Vp", staVp, 4, 4, "#000", 1.2),
      lineSeries("Np", staNp, 5, 5, "#000", 1.2),
      lineSeries("Tp/Texp", staTpTexp, 6, 8, RED, 1.2),
      lineSeries("Tp", staTp, 6, 6, "#000", 1.2),
      refSeries(7, 7, { yAxis: 0.1 }, 1.2),
      lineSeries("beta", staBeta, 7, 7, "#000", 1.2),
    ];

    const legendBase = {
      orient: "horizontal",
      left: 1043,
      icon: "rect",
      itemWidth: 42,
      itemHeight: 2,
      itemGap: 8,
      selectedMode: false,
      data: componentNames,
      textStyle: { fontFamily: FONT, fontSize: 20, color: "#000", padding: [0, 0, 0, 10] },
    };

    const graphics: any[] = [];
    TOPS.forEach((top, i) => {
      graphics.push({
        type: "text",
        left: 8,
        top: top - 4,
        z: 100,
        style: { text: panelLetters[i], font: "bold 20px " + FONT, fill: "#000" },
      });
      graphics.push({
        type: "text",
        left: 135,
        top: top + 6,
        z: 100,
        style: { text: panelTitles[i], font: "bold 23px " + FONT, fill: "#000" },
      });
    });

    chart.setOption({
      animation: false,
      backgroundColor: "#fff",
      grid: grids,
      xAxis: xAxes,
      yAxis: yAxes,
      series,
      legend: [
        { ...legendBase, top: 172 },
        { ...legendBase, top: 459 },
      ],
      graphic: { elements: graphics },
    });
    return () => chart.dispose();
  }, []);
  return <div ref={ref} style={{ position: "absolute", left: 0, top: 0, width: 1408, height: 1213 }} />;
}
